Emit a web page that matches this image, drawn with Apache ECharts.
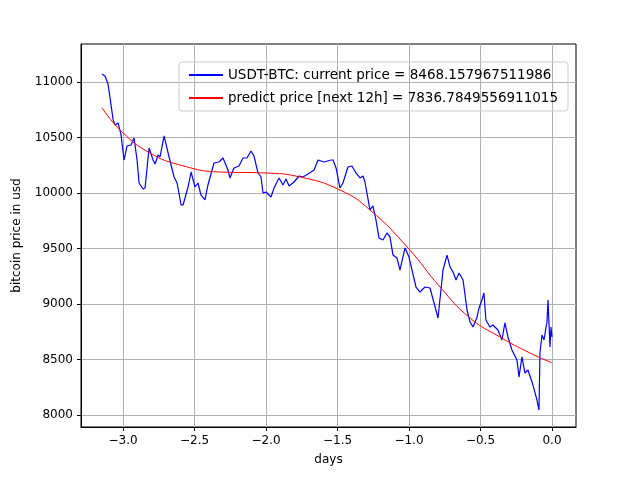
<![CDATA[<!DOCTYPE html><html><head><meta charset="utf-8">
<script src="https://cdn.jsdelivr.net/npm/echarts@6/dist/echarts.min.js"></script>
<style>html,body{margin:0;padding:0;background:#fff}#c{width:640px;height:480px}</style></head><body><div id="c"></div>
<script>
const actualDays=[-3.147,-3.126,-3.105,-3.069,-3.055,-3.035,-3.014,-2.993,-2.972,-2.944,-2.923,-2.902,-2.888,-2.860,-2.846,-2.818,-2.790,-2.776,-2.755,-2.741,-2.713,-2.678,-2.643,-2.622,-2.594,-2.580,-2.545,-2.524,-2.497,-2.476,-2.455,-2.427,-2.406,-2.364,-2.329,-2.301,-2.266,-2.252,-2.224,-2.189,-2.161,-2.133,-2.105,-2.084,-2.056,-2.035,-2.021,-2.000,-1.965,-1.944,-1.909,-1.881,-1.860,-1.839,-1.804,-1.769,-1.741,-1.685,-1.664,-1.636,-1.594,-1.545,-1.531,-1.510,-1.483,-1.462,-1.427,-1.399,-1.371,-1.343,-1.322,-1.308,-1.273,-1.252,-1.231,-1.210,-1.182,-1.154,-1.133,-1.112,-1.084,-1.063,-1.028,-1.000,-0.951,-0.923,-0.888,-0.853,-0.797,-0.762,-0.734,-0.713,-0.692,-0.671,-0.650,-0.622,-0.594,-0.573,-0.552,-0.524,-0.510,-0.490,-0.476,-0.462,-0.434,-0.413,-0.378,-0.350,-0.329,-0.308,-0.280,-0.245,-0.231,-0.210,-0.189,-0.168,-0.133,-0.105,-0.091,-0.084,-0.070,-0.056,-0.035,-0.028,-0.014,-0.007,0.0];
const actualPrice=[11072,11054,10982,10658,10613,10631,10523,10297,10423,10432,10495,10297,10090,10036,10045,10405,10297,10261,10342,10324,10514,10324,10144,10090,9892,9892,10054,10189,10054,10090,9982,9937,10072,10270,10279,10315,10207,10135,10225,10243,10315,10315,10378,10333,10180,10144,10000,10009,9964,10045,10135,10072,10126,10063,10099,10153,10144,10189,10207,10297,10279,10297,10297,10225,10045,10090,10234,10243,10180,10135,10153,10099,9847,9883,9757,9595,9577,9640,9604,9441,9414,9306,9505,9423,9153,9108,9153,9144,8874,9306,9441,9333,9288,9216,9279,9216,8946,8838,8793,8883,8964,9036,9099,8856,8793,8811,8766,8676,8829,8703,8586,8496,8342,8523,8378,8405,8270,8135,8045,8559,8721,8676,8838,9036,8613,8793,8703];
const predictDays=[-3.147,-3.007,-2.811,-2.601,-2.322,-2.007,-1.762,-1.483,-1.273,-1.007,-0.783,-0.573,-0.364,-0.154,0.0];
const predictPrice=[10766,10550,10360,10252,10189,10180,10144,10027,9847,9505,9153,8874,8703,8559,8470];
const xTicks=[-3.0,-2.5,-2.0,-1.5,-1.0,-0.5,0.0];
const yTicks=[8000,8500,9000,9500,10000,10500,11000];
const font='DejaVu Sans';
const zip=(a,b)=>a.map((v,i)=>[v,b[i]]);
const chart=echarts.init(document.getElementById('c'));
chart.setOption({
 animation:false,
 textStyle:{fontFamily:font},
 grid:{left:81,right:64,top:44,bottom:53,show:true,borderColor:'#000',borderWidth:1},
 legend:{orient:'vertical',right:72,top:62,itemWidth:34,itemHeight:2,itemGap:9,borderColor:'#ccc',borderWidth:1,borderRadius:3,padding:[6,10],
  textStyle:{fontSize:13.5,color:'#000',fontFamily:font},icon:'rect',
  data:['USDT-BTC: current price = 8468.157967511986','predict price [next 12h] = 7836.7849556911015']},
 xAxis:{type:'value',min:-3.294,max:0.168,name:'days',nameLocation:'middle',nameGap:27,nameTextStyle:{fontSize:12,color:'#000'},
  axisLine:{onZero:false,lineStyle:{color:'#000'}},axisTick:{customValues:xTicks,length:4,lineStyle:{color:'#000'}},
  axisLabel:{customValues:xTicks,color:'#000',fontSize:12,formatter:v=>v.toFixed(1).replace('-','\u2212')},
  splitLine:{show:true,lineStyle:{color:'#b0b0b0'}}},
 yAxis:{type:'value',min:7892,max:11342,name:'bitcoin price in usd',nameLocation:'middle',nameGap:58,nameTextStyle:{fontSize:12,color:'#000'},
  axisLine:{show:true,onZero:false,lineStyle:{color:'#000'}},axisTick:{show:true,customValues:yTicks,length:4,lineStyle:{color:'#000'}},
  axisLabel:{customValues:yTicks,color:'#000',fontSize:12,formatter:v=>String(v)},
  splitLine:{show:true,lineStyle:{color:'#b0b0b0'}}},
 series:[
  {name:'USDT-BTC: current price = 8468.157967511986',type:'line',data:zip(actualDays,actualPrice),showSymbol:false,color:'#0000ff',lineStyle:{width:1.2}},
  {name:'predict price [next 12h] = 7836.7849556911015',type:'line',data:zip(predictDays,predictPrice),smooth:true,showSymbol:false,color:'#ff0000',lineStyle:{width:1}}
 ]
});
</script></body></html>]]>
